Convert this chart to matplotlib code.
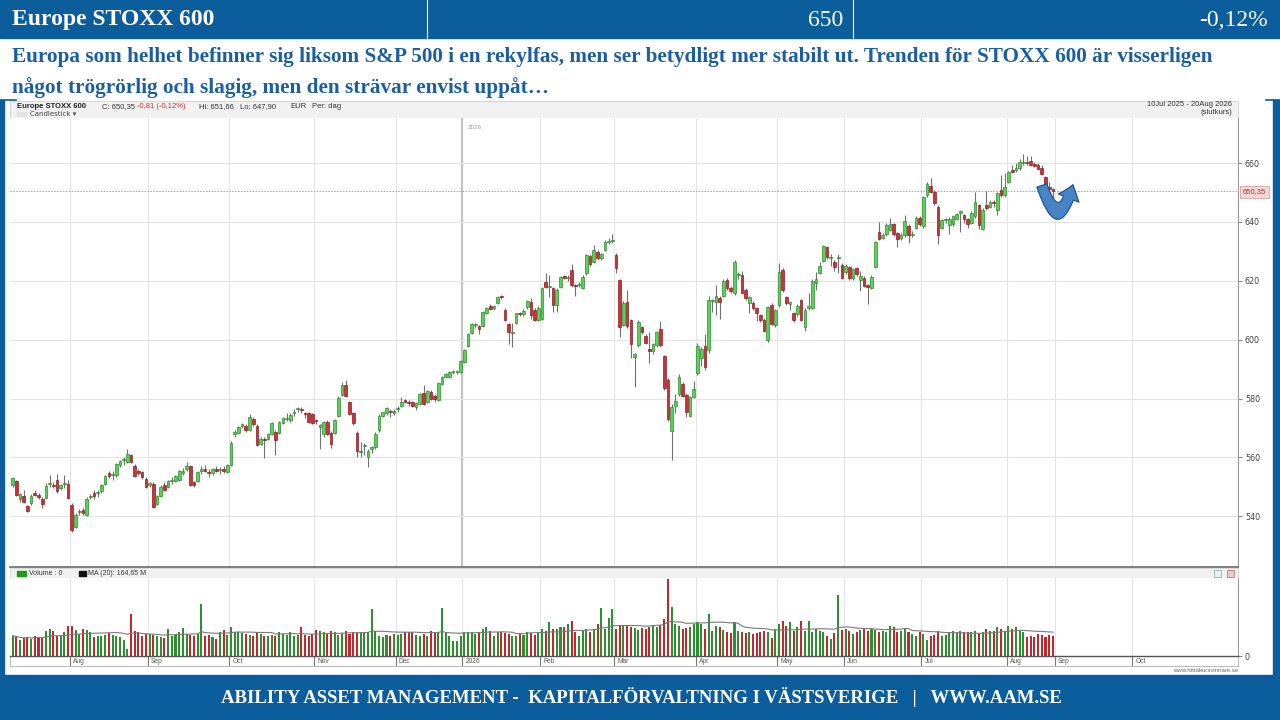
import numpy as np
import pandas as pd
import matplotlib
matplotlib.use("Agg")
import matplotlib.pyplot as plt
from matplotlib.patches import Rectangle, FancyArrowPatch

# daily candles (open, high, low, close), one list per month
jul25 = [(550.7, 553.5, 550.0, 553.0), (551.9, 552.5, 546.8, 547.3), (545.8, 548.0, 545.0, 547.5),
         (547.0, 549.0, 544.5, 545.0), (543.6, 544.0, 541.5, 541.9), (544.5, 547.5, 544.0, 547.0),
         (548.0, 549.0, 546.8, 547.1), (547.3, 548.0, 546.0, 546.6), (545.9, 546.5, 543.0, 544.3),
         (546.2, 551.3, 545.8, 550.4), (551.0, 554.0, 550.0, 551.4), (550.7, 551.5, 549.8, 550.2),
         (552.4, 554.5, 547.8, 548.5), (549.8, 551.0, 549.0, 550.5), (551.0, 554.0, 549.5, 551.2),
         (551.0, 552.5, 545.8, 546.2)]
aug25 = [(544.0, 544.5, 534.6, 535.5), (536.3, 541.0, 536.0, 540.6), (541.5, 542.5, 540.5, 541.7),
         (542.3, 543.0, 540.5, 541.1), (540.6, 546.5, 540.0, 545.9), (546.5, 547.5, 546.0, 547.0),
         (548.1, 549.0, 546.0, 546.8), (547.8, 549.0, 546.5, 548.0), (548.5, 551.0, 548.0, 550.7),
         (551.0, 554.0, 550.5, 553.8), (554.6, 555.5, 553.0, 553.6), (554.0, 555.5, 552.5, 554.2),
         (554.0, 558.0, 553.5, 557.7), (557.3, 559.2, 556.8, 558.9), (559.0, 560.0, 557.5, 559.2),
         (558.6, 562.8, 558.0, 561.1), (560.7, 561.2, 558.0, 558.4), (557.2, 557.8, 553.5, 553.8),
         (555.3, 556.0, 554.0, 554.7), (554.9, 555.5, 552.8, 553.3), (552.7, 553.2, 549.5, 549.9)]
sep25 = [(550.5, 551.8, 550.0, 551.3), (551.0, 551.5, 542.8, 543.1), (544.2, 547.2, 543.8, 546.8),
         (546.8, 550.5, 546.5, 549.9), (550.7, 551.5, 548.5, 549.0), (550.0, 552.5, 549.5, 551.9),
         (552.0, 553.5, 551.0, 552.2), (552.0, 554.2, 551.5, 553.8), (552.4, 555.8, 552.0, 555.3),
         (554.7, 556.5, 554.2, 555.5), (556.0, 558.5, 555.5, 557.2), (557.0, 557.5, 550.2, 550.7),
         (551.6, 552.0, 550.0, 550.5), (552.0, 555.5, 551.5, 555.0), (555.5, 557.0, 554.5, 556.0),
         (556.0, 557.5, 555.0, 555.4), (555.2, 556.0, 553.5, 554.6), (554.8, 556.5, 554.0, 556.0),
         (556.0, 557.2, 555.0, 555.5), (555.6, 556.8, 554.5, 556.2), (556.0, 557.0, 554.8, 555.4),
         (555.0, 557.8, 554.6, 557.5)]
oct25 = [(557.5, 565.5, 557.0, 565.0), (567.9, 569.2, 567.0, 568.6), (568.4, 570.8, 568.0, 570.2),
         (570.6, 571.8, 570.0, 571.2), (570.7, 571.5, 568.5, 569.2), (569.2, 574.8, 569.0, 573.6),
         (573.0, 573.8, 570.8, 571.3), (570.8, 571.2, 563.8, 564.2), (564.7, 566.8, 564.2, 566.3),
         (566.2, 567.0, 559.8, 566.0), (566.4, 568.3, 566.0, 567.9), (567.9, 572.0, 567.5, 571.6),
         (568.7, 569.5, 561.0, 566.1), (568.4, 572.5, 568.0, 572.1), (571.7, 573.8, 571.2, 573.3),
         (573.2, 575.0, 572.5, 573.4), (572.7, 575.0, 572.2, 574.5), (575.0, 576.5, 574.2, 575.4),
         (576.5, 577.2, 575.5, 576.5), (576.3, 577.0, 575.2, 576.2), (574.8, 575.5, 573.5, 574.6),
         (575.1, 575.6, 571.8, 572.1), (574.8, 575.2, 571.2, 571.6)]
nov25 = [(572.5, 573.0, 571.5, 572.3), (570.2, 571.5, 562.9, 570.9), (567.9, 572.5, 567.0, 571.9),
         (571.9, 572.8, 567.5, 567.9), (568.4, 569.0, 563.2, 564.6), (568.4, 573.2, 568.0, 572.8),
         (574.2, 581.0, 573.8, 580.3), (581.2, 585.5, 580.8, 584.6), (584.6, 586.4, 580.5, 580.8),
         (578.8, 579.3, 574.5, 574.8), (575.0, 575.5, 571.0, 571.6), (568.4, 569.0, 560.0, 562.1),
         (562.0, 565.4, 560.0, 562.3), (564.0, 565.0, 561.0, 564.2), (560.3, 563.0, 556.9, 562.1),
         (562.8, 564.0, 561.5, 563.5), (563.5, 568.5, 563.0, 568.0), (569.2, 574.6, 568.8, 574.2),
         (574.2, 575.6, 573.8, 575.3), (575.0, 577.0, 574.5, 576.7), (575.6, 576.5, 573.8, 575.3),
         (575.0, 576.5, 574.5, 575.9)]
dec25 = [(576.3, 577.5, 575.5, 576.5), (577.6, 580.5, 577.2, 579.0), (579.5, 580.0, 578.5, 579.0),
         (578.6, 579.5, 577.5, 578.4), (578.8, 579.2, 577.0, 577.6), (577.3, 578.8, 576.0, 578.4),
         (578.2, 582.0, 577.8, 581.6), (581.9, 584.5, 577.8, 578.2), (579.0, 583.0, 578.5, 582.5),
         (582.4, 583.0, 579.5, 579.9), (581.0, 581.5, 579.0, 579.7), (579.5, 585.6, 579.2, 585.3),
         (585.0, 587.8, 584.5, 587.5), (587.5, 588.8, 587.0, 588.4), (587.5, 589.5, 587.0, 589.0),
         (589.0, 589.6, 588.5, 589.1), (589.1, 589.8, 588.5, 589.3), (589.0, 593.0, 588.8, 592.6)]
jan26 = [(592.4, 596.8, 592.0, 596.4), (597.8, 602.2, 597.5, 601.8), (602.4, 605.6, 602.0, 605.2),
         (605.0, 605.8, 604.0, 605.2), (604.5, 605.0, 602.0, 603.8), (604.5, 609.8, 604.2, 609.4),
         (609.2, 611.2, 608.8, 610.9), (611.6, 612.0, 610.0, 610.3), (610.6, 611.8, 610.2, 611.5),
         (612.3, 614.9, 612.0, 614.5), (614.5, 615.2, 613.8, 614.4), (610.2, 610.8, 606.5, 606.8),
         (605.2, 605.6, 598.4, 602.6), (602.4, 605.6, 597.5, 602.6), (605.7, 609.2, 605.4, 608.9),
         (608.8, 609.5, 608.0, 608.6), (608.6, 610.4, 608.2, 609.7), (611.0, 613.5, 610.5, 613.0),
         (612.8, 614.0, 607.0, 608.3), (610.2, 610.6, 606.2, 606.8), (606.8, 611.5, 606.4, 610.9)]
feb26 = [(607.2, 617.8, 606.8, 617.4), (619.7, 622.7, 617.5, 618.0), (618.0, 622.0, 614.5, 618.2),
         (617.4, 617.8, 609.5, 611.7), (611.7, 617.5, 609.5, 617.0), (618.0, 621.8, 617.6, 621.4),
         (621.7, 622.0, 620.5, 621.0), (621.0, 622.0, 620.0, 621.2), (623.6, 625.8, 618.0, 618.5),
         (618.5, 619.0, 615.0, 618.3), (618.6, 619.5, 617.8, 618.9), (617.7, 622.0, 617.2, 621.4),
         (622.5, 629.2, 622.0, 628.8), (628.4, 629.0, 625.0, 625.6), (626.5, 632.0, 626.0, 630.5),
         (629.9, 630.5, 627.0, 627.6), (627.6, 629.5, 627.0, 629.1), (630.5, 633.8, 630.0, 633.3),
         (633.3, 634.5, 632.5, 633.3), (633.4, 635.8, 633.0, 633.9)]
mar26 = [(628.8, 629.5, 622.5, 624.2), (620.2, 620.5, 600.9, 604.3), (604.9, 613.0, 604.5, 612.5),
         (612.8, 617.0, 604.0, 604.5), (606.8, 607.2, 593.8, 598.6), (594.1, 595.6, 584.1, 595.0),
         (598.1, 606.8, 597.6, 606.0), (604.3, 604.8, 602.0, 602.6), (601.1, 602.0, 598.4, 598.9),
         (597.0, 602.6, 592.0, 596.1), (596.1, 599.0, 595.0, 598.4), (598.1, 603.0, 597.5, 602.6),
         (603.7, 606.5, 597.5, 598.1), (594.3, 594.8, 583.0, 583.6), (586.4, 587.0, 572.5, 573.1),
         (568.9, 578.0, 559.1, 577.0), (577.6, 581.5, 575.0, 579.3), (581.6, 588.5, 581.0, 587.5),
         (585.0, 585.8, 580.5, 581.0), (581.2, 582.0, 573.8, 575.3), (574.2, 581.0, 573.8, 580.7),
         (580.7, 586.0, 580.2, 583.3)]
apr26 = [(588.6, 598.8, 588.0, 597.7), (593.9, 597.5, 591.0, 597.0), (598.0, 601.8, 589.8, 590.7),
         (596.4, 614.8, 595.5, 613.4), (613.1, 613.8, 609.5, 613.1), (612.8, 618.5, 608.5, 614.8),
         (614.0, 615.0, 607.2, 612.8), (614.9, 620.5, 614.5, 619.9), (620.2, 620.8, 617.0, 617.4),
         (617.7, 618.3, 616.0, 616.6), (615.7, 627.0, 615.2, 626.5), (621.9, 623.0, 620.5, 621.9),
         (621.9, 623.5, 615.5, 615.9), (617.0, 617.5, 613.5, 614.0), (612.3, 614.8, 609.0, 614.5),
         (612.5, 613.0, 610.0, 610.6), (610.6, 611.0, 606.5, 608.9), (608.3, 608.8, 606.0, 606.6),
         (606.8, 607.3, 602.5, 603.0), (600.0, 611.5, 599.2, 611.1), (611.7, 612.3, 605.0, 605.5),
         (604.9, 610.5, 604.4, 610.0)]
may26 = [(611.7, 626.0, 611.2, 623.0), (623.6, 624.2, 616.3, 616.8), (614.5, 615.0, 611.8, 612.3),
         (612.0, 613.3, 610.0, 612.8), (608.9, 609.5, 606.0, 606.6), (608.6, 612.0, 608.0, 611.4),
         (613.4, 613.9, 606.3, 606.8), (604.3, 610.7, 602.8, 610.2), (610.6, 616.0, 610.0, 611.4),
         (610.9, 620.5, 610.4, 620.0), (619.3, 623.0, 617.0, 620.5), (622.7, 626.5, 622.2, 625.0),
         (626.8, 632.3, 626.3, 631.8), (631.4, 631.9, 627.5, 628.0), (627.8, 629.0, 625.0, 628.2),
         (626.5, 627.0, 623.5, 624.8), (627.6, 629.1, 622.8, 627.8), (625.5, 626.0, 620.6, 621.1)]
jun26 = [(622.9, 625.6, 622.4, 625.1), (624.6, 625.1, 620.4, 620.9), (620.9, 624.5, 620.4, 624.0),
         (624.3, 624.8, 621.8, 622.3), (620.2, 623.2, 616.6, 621.7), (621.1, 621.6, 617.8, 618.3),
         (618.5, 619.0, 612.0, 617.9), (617.7, 621.9, 617.2, 621.4), (624.8, 633.6, 624.3, 633.1),
         (636.6, 640.0, 633.8, 634.3), (634.6, 636.2, 634.1, 635.7), (635.8, 639.6, 635.3, 639.1),
         (637.4, 641.5, 637.0, 639.4), (639.2, 639.7, 635.3, 635.8), (636.2, 636.7, 631.5, 634.3),
         (634.6, 636.2, 633.8, 635.7), (635.4, 642.5, 635.0, 640.3), (638.7, 639.2, 633.0, 635.7),
         (635.7, 637.0, 634.8, 635.9), (638.0, 642.0, 637.5, 641.5), (641.4, 641.9, 638.7, 639.2)]
jul26 = [(638.5, 648.8, 638.0, 648.3), (649.1, 653.5, 648.6, 652.9), (652.3, 655.0, 649.8, 650.3),
         (650.3, 650.8, 645.8, 646.3), (645.1, 645.6, 632.5, 635.4), (638.1, 641.1, 637.6, 640.6),
         (640.6, 641.5, 639.5, 640.6), (638.9, 641.6, 636.0, 641.1), (639.2, 642.4, 638.7, 641.9),
         (641.1, 643.1, 640.6, 642.6), (643.2, 643.9, 636.5, 643.4), (642.3, 642.8, 639.5, 641.1),
         (640.9, 641.4, 638.0, 639.4), (639.7, 643.6, 639.2, 643.1), (642.0, 650.0, 641.5, 646.9),
         (645.7, 646.2, 637.5, 638.9), (637.7, 644.7, 637.2, 644.2), (645.7, 650.5, 644.1, 644.6),
         (645.1, 647.4, 644.6, 646.9), (646.9, 647.5, 645.0, 646.3), (644.0, 650.2, 642.5, 649.7),
         (651.0, 656.0, 648.6, 649.1), (649.1, 656.5, 648.6, 652.0)]
aug26 = [(653.7, 657.3, 653.2, 656.8), (657.7, 659.5, 656.5, 657.1), (657.5, 660.0, 657.0, 658.3),
         (658.3, 661.5, 657.8, 660.2), (660.0, 663.0, 659.5, 660.2), (660.3, 662.5, 659.5, 660.1),
         (660.7, 662.5, 659.0, 659.4), (659.8, 660.5, 658.6, 659.1), (659.2, 660.0, 657.5, 658.0),
         (658.4, 659.5, 655.8, 656.3), (655.2, 655.7, 651.5, 652.0), (652.0, 653.5, 650.6, 651.1),
         (651.16, 651.66, 647.9, 650.35)]

# daily volume in millions, per month
vol_jul25 = [156, 146, 125, 135, 143, 130, 156, 146, 138, 190, 208, 195, 151, 161, 182, 229]
vol_aug25 = [229, 203, 169, 208, 203, 182, 143, 151, 151, 161, 177, 161, 151, 143, 125, 57, 320, 195, 182, 156, 169]
vol_sep25 = [169, 161, 151, 143, 135, 208, 156, 161, 182, 213, 169, 161, 156, 169, 398, 156, 161, 143, 130, 182, 203, 161]
vol_oct25 = [221, 182, 187, 177, 169, 161, 156, 187, 169, 156, 151, 161, 156, 182, 169, 161, 182, 156, 161, 221, 161, 156, 169]
vol_nov25 = [203, 195, 187, 177, 195, 187, 161, 177, 195, 169, 182, 187, 177, 182, 187, 364, 195, 156, 143, 161, 151, 169]
vol_dec25 = [161, 169, 182, 187, 182, 161, 156, 169, 156, 195, 182, 187, 372, 182, 156, 117, 117, 156]
vol_jan26 = [187, 187, 182, 169, 187, 208, 221, 195, 156, 182, 187, 177, 169, 156, 156, 169, 161, 187, 177, 161, 182]
vol_feb26 = [208, 195, 260, 208, 208, 221, 221, 247, 273, 182, 156, 195, 208, 182, 208, 247, 372, 208, 295, 359]
vol_mar26 = [205, 230, 240, 230, 220, 215, 200, 215, 210, 220, 230, 225, 235, 285, 590, 375, 245, 230, 205, 215, 225, 250]
vol_apr26 = [260, 247, 208, 320, 195, 229, 221, 203, 182, 175, 260, 190, 182, 175, 182, 170, 178, 185, 195, 188, 140, 210]
vol_may26 = [247, 268, 234, 260, 195, 221, 268, 195, 268, 182, 208, 195, 182, 156, 130, 180, 468, 200]
vol_jun26 = [208, 195, 169, 182, 203, 208, 195, 208, 203, 187, 195, 182, 234, 221, 182, 195, 208, 182, 169, 156, 182]
vol_jul26 = [169, 125, 156, 161, 195, 151, 161, 182, 195, 177, 195, 187, 182, 187, 195, 177, 187, 208, 195, 195, 221, 208, 195]
vol_aug26 = [229, 208, 221, 195, 187, 143, 156, 143, 169, 161, 143, 161, 156]

month_labels = ["", "Aug", "Sep", "Oct", "Nov", "Dec", "2026", "Feb", "Mar", "Apr", "May", "Jun", "Jul", "Aug"]
future_labels = ["Sep", "Oct"]
future_lengths = [21, 22]

candle_months = [jul25, aug25, sep25, oct25, nov25, dec25, jan26, feb26, mar26, apr26, may26, jun26, jul26, aug26]
vol_months = [vol_jul25, vol_aug25, vol_sep25, vol_oct25, vol_nov25, vol_dec25, vol_jan26, vol_feb26,
              vol_mar26, vol_apr26, vol_may26, vol_jun26, vol_jul26, vol_aug26]

candles = np.array([c for m in candle_months for c in m])
volume = np.array([v for m in vol_months for v in m], dtype=float)
o, h, l, c = candles[:, 0], candles[:, 1], candles[:, 2], candles[:, 3]
idx = np.arange(len(candles))
up = c >= o
ma20 = pd.Series(volume).rolling(20, min_periods=1).mean()

lengths = [len(m) for m in candle_months] + future_lengths
starts = np.concatenate([[0], np.cumsum(lengths)])
tick_starts = starts[1:len(month_labels) + len(future_labels)]
tick_labels = month_labels[1:] + future_labels

BLUE = "#0b5d9b"
TXT_BLUE = "#1b5f9e"
GREEN_B, GREEN_E = "#5ad25a", "#2d8c2d"
RED_B, RED_E = "#c9343b", "#8c1d22"
W, H = 1280, 720
XL = (-0.7, 331)


def rect(x, y, w, hh):
    return [x / W, 1 - (y + hh) / H, w / W, hh / H]


fig = plt.figure(figsize=(12.8, 7.2), dpi=100)
bg = fig.add_axes([0, 0, 1, 1])
bg.set_xlim(0, W)
bg.set_ylim(H, 0)
bg.axis("off")

serif = "Liberation Serif"
sans = "Liberation Sans"

# slide header
bg.add_patch(Rectangle((0, 0), W, 38, color=BLUE))
bg.plot([427, 427], [0, 38], color="white", lw=0.8)
bg.plot([853, 853], [0, 38], color="white", lw=0.8)
bg.text(12, 20, "Europe STOXX 600", color="white", fontsize=17, fontweight="bold", family=serif, va="center")
bg.text(843, 20, "650", color="white", fontsize=17, family=serif, va="center", ha="right")
bg.text(1268, 20, "-0,12%", color="white", fontsize=17, family=serif, va="center", ha="right")

bg.text(12, 57, "Europa som helhet befinner sig liksom S&P 500 i en rekylfas, men ser betydligt mer stabilt ut. "
        "Trenden för STOXX 600 är visserligen", color=TXT_BLUE, fontsize=15.3, fontweight="bold",
        family=serif, va="center")
bg.text(12, 88, "något trögrörlig och slagig, men den strävar envist uppåt…", color=TXT_BLUE, fontsize=15.3,
        fontweight="bold", family=serif, va="center")

# side strips and footer
bg.add_patch(Rectangle((0, 100), 4, 575, color=BLUE))
bg.add_patch(Rectangle((1273, 100), 7, 575, color=BLUE))
bg.plot([0, 16], [100, 100], color=BLUE, lw=1.2)
bg.plot([1266, 1280], [100, 100], color=BLUE, lw=1.2)
bg.add_patch(Rectangle((0, 675), W, 45, color=BLUE))
bg.text(641, 697, "ABILITY ASSET MANAGEMENT -  KAPITALFÖRVALTNING I VÄSTSVERIGE   |   WWW.AAM.SE",
        color="white", fontsize=13.5, fontweight="bold", family=serif, va="center", ha="center")

# chart header strip
bg.add_patch(Rectangle((10, 101), 1228, 17, facecolor="#f1f1f1", edgecolor="#d0d0d0", lw=0.6))
hdr = [(17, "Europe STOXX 600", "#222", "bold"), (102, "C: 650,35", "#333", "normal"),
       (137, "-0,81 (-0,12%)", "#d03030", "normal"), (199, "Hi: 651,66", "#333", "normal"),
       (240, "Lo: 647,90", "#333", "normal"), (290, "EUR", "#333", "normal"), (312, "Per: dag", "#333", "normal")]
for x, s, col, wt in hdr:
    bg.text(x, 106.5, s, color=col, fontsize=5.5, fontweight=wt, family=sans, va="center")
bg.add_patch(Rectangle((17, 112), 10, 5, facecolor="#e4e4e4", edgecolor="none"))
bg.text(30, 114.5, "Candlestick ▾", color="#444", fontsize=5, family=["DejaVu Sans"], va="center")
bg.text(1232, 105, "10Jul 2025 - 20Aug 2026", color="#333", fontsize=5.5, family=sans, va="center", ha="right")
bg.text(1232, 113, "(slutkurs)", color="#333", fontsize=5.5, family=sans, va="center", ha="right")

# price panel
ax = fig.add_axes(rect(10, 118, 1228, 449))
ax.set_xlim(*XL)
ax.set_ylim(522.8, 675.3)
for t in tick_starts:
    is26 = t == starts[6]
    ax.axvline(t - 0.5, color="#c4c4c4" if is26 else "#e4e4e4", lw=1.6 if is26 else 0.8, zorder=0)
ax.set_yticks(np.arange(540, 661, 20))
ax.grid(axis="y", color="#e4e4e4", lw=0.8)
ax.set_axisbelow(True)
ax.text(starts[6] + 1, 673, "2026", fontsize=4.5, color="#999", family=sans, va="top")
ax.axhline(c[-1], color="#a0a0a0", ls=(0, (1.5, 1.5)), lw=0.7, zorder=1)

ax.vlines(idx, l, h, color="#707070", lw=0.8, zorder=2)
bottom = np.minimum(o, c)
height = np.maximum(np.abs(c - o), 0.35)
ax.bar(idx[up], height[up], bottom=bottom[up], width=0.72, color=GREEN_B, edgecolor=GREEN_E, lw=0.5, zorder=3)
ax.bar(idx[~up], height[~up], bottom=bottom[~up], width=0.72, color=RED_B, edgecolor=RED_E, lw=0.5, zorder=3)

ax.yaxis.tick_right()
ax.tick_params(axis="y", labelsize=5.8, labelcolor="#444", length=3, color="#888", pad=2)
ax.tick_params(axis="x", bottom=False, labelbottom=False)
for s in ["top", "left"]:
    ax.spines[s].set_visible(False)
ax.spines["right"].set_color("#9a9a9a")
ax.spines["bottom"].set_color("#6a6a6a")
ax.spines["bottom"].set_linewidth(1.2)

# U-turn arrow
arrow = FancyArrowPatch((277.8, 653.3), (286.6, 653.6), connectionstyle="arc3,rad=1.75",
                        arrowstyle="simple,head_length=0.6,head_width=0.95,tail_width=0.45",
                        mutation_scale=17, facecolor="#4684c6", edgecolor="#1e4f85", lw=0.8, zorder=5)
ax.add_patch(arrow)

# last price label
bg.add_patch(Rectangle((1240, 186), 29, 12, facecolor="#f6d6d6", edgecolor="#d9a0a0", lw=0.6))
bg.text(1254.5, 192, "650,35", fontsize=5.5, color="#a33", family=sans, ha="center", va="center")

# volume header strip
bg.add_patch(Rectangle((10, 568), 1228, 10, facecolor="#f0f0f0", edgecolor="#cfcfcf", lw=0.5))
bg.add_patch(Rectangle((17, 571), 9, 4.5, color="#1f9a1f"))
bg.text(29, 573.3, "Volume : 0", fontsize=5, color="#333", family=sans, va="center")
bg.add_patch(Rectangle((79, 571), 7, 4.5, color="#111"))
bg.text(88, 573.3, "MA (20): 164,65 M", fontsize=5, color="#333", family=sans, va="center")
bg.add_patch(Rectangle((1214, 569.5), 7, 7, facecolor="#e8eef6", edgecolor="#8aa", lw=0.5))
bg.add_patch(Rectangle((1227, 569.5), 7, 7, facecolor="#e9c9c9", edgecolor="#b66", lw=0.5))

# volume panel
vax = fig.add_axes(rect(10, 578, 1228, 78))
vax.set_xlim(*XL)
vax.set_ylim(0, 600)
for t in tick_starts:
    vax.axvline(t - 0.5, color="#e4e4e4", lw=0.8, zorder=0)
vax.bar(idx[up], volume[up], width=0.55, color="#2e8f2e", zorder=2)
vax.bar(idx[~up], volume[~up], width=0.55, color="#c0282e", zorder=2)
vax.plot(idx, ma20, color="#7a7a7a", lw=0.8, zorder=3)
vax.yaxis.tick_right()
vax.set_yticks([0])
vax.tick_params(axis="y", labelsize=5.8, labelcolor="#444", length=3, color="#888", pad=2)
vax.tick_params(axis="x", bottom=False, labelbottom=False)
for s in ["top", "left", "bottom"]:
    vax.spines[s].set_visible(False)
vax.spines["right"].set_color("#9a9a9a")

# month axis strip
max_ = fig.add_axes(rect(10, 656, 1228, 10))
max_.set_xlim(*XL)
max_.set_ylim(0, 1)
max_.set_xticks([])
max_.set_yticks([])
for s in ["left", "right", "bottom"]:
    max_.spines[s].set_color("#bbbbbb")
max_.spines["top"].set_color("#555555")
max_.spines["top"].set_linewidth(1.0)
for t, lab in zip(tick_starts, tick_labels):
    max_.axvline(t - 0.5, color="#777", lw=0.8)
    max_.text(t + 0.3, 0.45, lab, fontsize=4.8, color="#555", family=sans, va="center")
bg.add_patch(Rectangle((11, 656.5), 37, 9, facecolor="none", edgecolor="#888", lw=0.6))
bg.text(13, 661, "281*dag", fontsize=4.8, color="#555", family=sans, va="center")
bg.text(1238, 671, "www.hittakursvinnare.se", fontsize=4.3, color="#666", family=sans, ha="right", va="center")

fig.savefig("out.png", dpi=100)
